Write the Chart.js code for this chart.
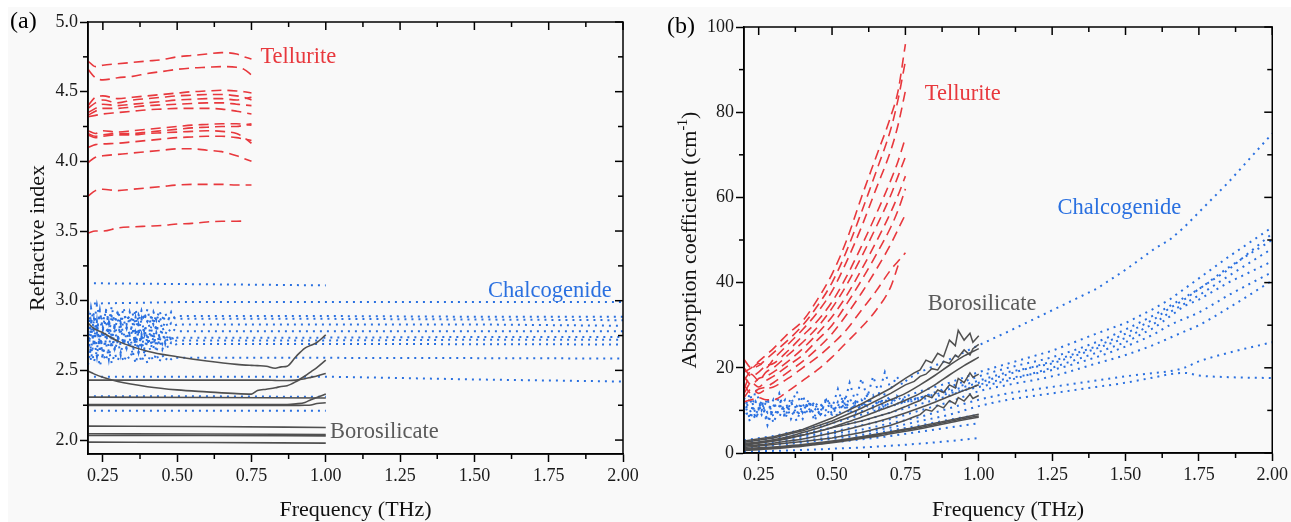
<!DOCTYPE html>
<html><head><meta charset="utf-8">
<script src="https://cdn.jsdelivr.net/npm/chart.js@4.4.1/dist/chart.umd.min.js"></script>
<style>
html,body{margin:0;padding:0;background:#fff;}
#wrap{position:relative;width:1291px;height:522px;overflow:hidden;}
#bg{position:absolute;left:8px;top:7px;right:0;bottom:0;background:#f9f9f9;}
canvas{position:absolute;top:0;}
#ca{left:0;} #cb{left:645px;}
</style></head><body>
<div id="wrap"><div id="bg"></div>
<canvas id="ca" width="645" height="522"></canvas>
<canvas id="cb" width="646" height="522"></canvas>
</div>
<script>
// ---------- tick labels ----------
const xTicks = [0.25, 0.50, 0.75, 1.00, 1.25, 1.50, 1.75, 2.00];
const xMinorTicks = [0.375, 0.625, 0.875, 1.125, 1.375, 1.625, 1.875];
const yTicksA = [2.0, 2.5, 3.0, 3.5, 4.0, 4.5, 5.0];
const yMinorTicksA = [2.25, 2.75, 3.25, 3.75, 4.25, 4.75];
const yTicksB = [0, 20, 40, 60, 80, 100];
const yMinorTicksB = [10, 30, 50, 70, 90];

// ---------- panel (a): refractive index ----------
const freqTelA = [0.20,0.225,0.25,0.30,0.35,0.40,0.45,0.50,0.55,0.60,0.65,0.70,0.725,0.75];
const telluriteIndex = [
  [4.72,4.68,4.69,4.70,4.71,4.72,4.73,4.75,4.76,4.77,4.78,4.77,4.75,4.735],
  [4.66,4.60,4.585,4.60,4.61,4.63,4.645,4.66,4.67,4.675,4.68,4.675,4.66,4.62],
  [4.40,4.46,4.47,4.45,4.46,4.47,4.48,4.49,4.50,4.505,4.51,4.505,4.50,4.49],
  [4.38,4.42,4.44,4.42,4.44,4.45,4.46,4.47,4.475,4.48,4.48,4.47,4.46,4.44],
  [4.35,4.38,4.41,4.40,4.41,4.42,4.43,4.44,4.445,4.45,4.45,4.44,4.45,4.46],
  [4.33,4.36,4.38,4.38,4.39,4.40,4.405,4.41,4.415,4.42,4.42,4.41,4.405,4.40],
  [4.32,4.33,4.34,4.35,4.36,4.37,4.375,4.38,4.38,4.38,4.375,4.36,4.35,4.34],
  [4.22,4.20,4.22,4.21,4.22,4.23,4.24,4.25,4.26,4.265,4.27,4.27,4.265,4.26],
  [4.20,4.18,4.19,4.20,4.20,4.21,4.22,4.23,4.24,4.245,4.25,4.25,4.26,4.27],
  [4.19,4.17,4.18,4.19,4.19,4.20,4.205,4.21,4.215,4.22,4.215,4.20,4.17,4.13],
  [4.10,4.12,4.125,4.13,4.14,4.15,4.16,4.17,4.175,4.18,4.18,4.17,4.16,4.15],
  [3.99,4.03,4.04,4.05,4.06,4.07,4.08,4.09,4.09,4.08,4.07,4.04,4.02,4.00],
  [3.75,3.79,3.80,3.79,3.80,3.81,3.82,3.83,3.835,3.835,3.835,3.83,3.83,3.83],
  [3.486,3.50,3.50,3.522,3.53,3.535,3.54,3.55,3.555,3.565,3.57,3.57,3.572,null]
];
const freqChalANoisy = [0.20,0.21,0.22,0.23,0.24,0.25,0.26,0.27,0.28,0.29,0.30,0.31,0.32,0.33,0.34,0.35,0.36,0.37,0.38,0.39,0.40,0.41,0.42,0.43,0.44,0.45,0.46,0.47,0.48,0.49,0.50,0.60,1.00,1.50,2.00];
const chalcoIndexNoisy = [
  [2.80,2.95,2.83,2.97,2.86,2.79,2.94,2.84,2.96,2.82,2.93,2.86,2.95,2.83,2.92,2.84,2.94,2.85,2.93,2.86,2.94,2.84,2.92,2.86,2.93,2.87,2.91,2.86,2.92,2.88,2.89,2.89,2.89,2.885,2.885],
  [2.93,2.84,2.91,2.80,2.90,2.85,2.92,2.83,2.89,2.86,2.91,2.84,2.90,2.86,2.89,2.91,2.83,2.90,2.84,2.91,2.85,2.89,2.83,2.90,2.85,2.89,2.86,2.88,2.86,2.875,2.87,2.87,2.87,2.865,2.86],
  [2.91,2.74,2.87,2.77,2.93,2.79,2.86,2.75,2.89,2.80,2.87,2.77,2.86,2.80,2.88,2.77,2.88,2.78,2.87,2.76,2.86,2.79,2.88,2.78,2.86,2.80,2.85,2.81,2.84,2.82,2.83,2.83,2.83,2.83,2.82],
  [2.70,2.85,2.73,2.83,2.68,2.81,2.75,2.86,2.72,2.82,2.74,2.84,2.75,2.81,2.76,2.84,2.73,2.83,2.74,2.82,2.72,2.81,2.75,2.83,2.74,2.81,2.76,2.80,2.77,2.79,2.78,2.78,2.78,2.78,2.78],
  [2.62,2.81,2.67,2.85,2.63,2.78,2.70,2.84,2.66,2.79,2.69,2.82,2.68,2.77,2.71,2.80,2.67,2.79,2.68,2.80,2.69,2.78,2.66,2.77,2.70,2.78,2.69,2.76,2.71,2.75,2.735,2.735,2.735,2.74,2.74],
  [2.77,2.65,2.79,2.66,2.74,2.60,2.76,2.67,2.78,2.66,2.75,2.68,2.74,2.66,2.75,2.66,2.77,2.67,2.76,2.65,2.75,2.68,2.77,2.67,2.74,2.69,2.75,2.70,2.73,2.71,2.715,2.715,2.715,2.72,2.72],
  [2.79,2.57,2.73,2.60,2.77,2.62,2.71,2.58,2.74,2.64,2.72,2.61,2.73,2.65,2.71,2.62,2.74,2.63,2.73,2.61,2.72,2.64,2.74,2.63,2.72,2.65,2.71,2.66,2.70,2.68,2.69,2.69,2.69,2.688,2.686],
  [2.54,2.67,2.56,2.64,2.53,2.62,2.57,2.65,2.55,2.62,2.57,2.63,2.56,2.61,2.58,2.64,2.55,2.63,2.56,2.62,2.55,2.61,2.57,2.62,2.56,2.61,2.57,2.60,2.58,2.595,2.59,2.59,2.59,2.588,2.585]
];
const freqChalAClean = [0.22, 0.50, 1.00, 1.50, 2.00];
const chalcoIndexClean = [
  [2.98,2.99,2.99,2.99,2.99],
  [2.455,2.455,2.455,2.435,2.42],
  [3.125,3.12,3.11,null,null],
  [2.315,2.315,2.31,null,null],
  [2.21,2.21,2.21,null,null]
];
const freqBoroA = [0.20,0.22,0.25,0.30,0.40,0.50,0.60,0.70,0.75,0.77,0.80,0.83,0.85,0.87,0.90,0.93,0.95,0.97,1.00];
const boroIndexCurved = [
  [2.84,2.80,2.77,2.71,2.638,2.598,2.567,2.543,2.536,2.534,2.53,2.515,2.525,2.53,2.60,2.66,2.68,2.70,2.755],
  [2.495,2.475,2.45,2.42,2.383,2.36,2.346,2.333,2.33,2.355,2.365,2.375,2.385,2.39,2.42,2.46,2.49,2.52,2.574],
  [2.43,2.43,2.43,2.43,2.43,2.43,2.43,2.43,2.43,2.43,2.43,2.428,2.427,2.427,2.43,2.44,2.45,2.46,2.478],
  [2.254,2.254,2.254,2.254,2.254,2.254,2.254,2.254,2.254,2.254,2.254,2.254,2.255,2.255,2.26,2.27,2.29,2.305,2.33],
  [2.248,2.248,2.248,2.248,2.248,2.248,2.248,2.248,2.248,2.248,2.248,2.248,2.248,2.248,2.249,2.25,2.252,2.262,2.268]
];
const freqBoroAFlat = [0.20, 0.60, 1.00];
const boroIndexFlat = [
  [2.308,2.305,2.302],
  [2.10,2.097,2.09],
  [2.045,2.043,2.04],
  [2.033,2.033,2.03],
  [1.985,1.982,1.978]
];

// ---------- panel (b): absorption coefficient ----------
const freqTelB = [0.20,0.225,0.25,0.275,0.30,0.35,0.40,0.45,0.50,0.55,0.60,0.65,0.70,0.725,0.75];
const telluriteAbs = [
  [19,20,21.5,23,24.5,28,31,36,42,50,60,69.5,79,85,96],
  [22,20,20.5,22,23.5,26.5,30,34.5,40,47.5,56.5,66,76,83,92],
  [17,19.5,21,20,22,25.5,29,33,38,45,53,62,71,77,85],
  [20,18,19,20.5,21,24,27.5,31,35.5,41.5,48.5,56,64,68.5,74],
  [15,18.5,17,19,20,23,26,29.5,34,39.5,46,53,60.5,65,69.5],
  [18,16,17.5,18,19,21.5,24.5,28,32,37,43,49.5,56.5,60.5,65],
  [14,16.5,15.5,17,18,20.5,23,26.5,30,35,40.5,46.5,53,57,62],
  [16,14,15,15.5,16.5,19,21.5,24.5,28,32.5,37.5,43,49,52.5,56],
  [13,15,14,15,15.5,17.5,20,22.5,25.5,29,33.5,38,43,45,47],
  [12,12.5,13,12.5,12.5,14.5,17,19.5,22.5,26,29.5,33.5,39,44,null]
];
const freqChalBNoisy = [0.20,0.22,0.24,0.26,0.28,0.30,0.32,0.34,0.36,0.38,0.40,0.42,0.44,0.46,0.48,0.50,0.52,0.54,0.56,0.58,0.60,0.62,0.64,0.66,0.68,0.70,0.72,0.74,0.76,0.80,0.90,1.00,1.10,1.25,1.40,1.50,1.60,1.65,1.70,1.75,1.85,2.00];
const chalcoAbsNoisy = [
  [9,13,8,12.5,7.5,11,14,8.5,12,9,13.5,10,12,8.5,13,10.5,15,11,16.5,12,17.5,13,18,14,19,15,18,16,17.5,19,22,25.3,28.5,33.5,38.5,43,48,50,53,56.5,63.5,75],
  [11,7.5,12,9,13,7,10.5,12.5,8,11,9.5,12.5,8.5,11.5,10,9,12,10,13,9.5,12.5,11,13.5,10.5,14,12,13.5,12.5,13.5,14.5,16.5,19,21,24,28,30.5,34,36,38.5,41,46,53],
  [13,10,8,11.5,9.5,12.5,8.5,11,10,7.5,11.5,9,12,10.5,8.5,11.5,10,12.5,9,11.5,10.5,12.5,11,10,12.5,11.5,13,12,12.5,13,15,17,19,21,24.5,27,30.5,33,35,37,41.5,48],
  [10,14,9,12,6.5,10.5,13,8,11.5,14.5,9.5,12,7.5,10.5,12.5,9,11,13.5,10,12.5,11,14,10.5,12.5,11,13,12,13.5,12.5,13,14.5,16.5,18.5,21.5,25,28,31.5,34,36,38.5,43,51.5],
  [12,8,15,10,12.5,8.5,11,9.5,13,10,8,12,10.5,9,12.5,11,8.5,11.5,10,12,9.5,12.5,11,12,10.5,12.5,11.5,12,12,12.5,14,15.5,17,20,23.5,26,29.5,32,34.5,36,40,45]
];
const freqChalB = [0.20,0.30,0.40,0.50,0.60,0.70,0.80,0.90,1.00,1.10,1.25,1.40,1.50,1.60,1.65,1.70,1.75,1.85,2.00];
const chalcoAbsSmooth = [
  [3,4,5.5,7,9,11,13,15.5,18,20,22.5,26,29,32.5,34.5,36.5,38.5,43.5,50],
  [2.5,3.5,4.5,6,7.5,9.5,11.5,13.5,16,17.5,19.5,22.5,25,28,30,31.5,33,37,42.5],
  [2,3,4,5,6.5,8,10,12,14.5,16,18,21,23,25.5,27,28.5,30,34,40.5],
  [1.5,2.5,3.5,4.5,5.5,7,8.5,10.5,12.5,14,15.5,17,18,18.8,19.2,20,21.5,23.5,26],
  [1,2,2.8,3.8,4.8,6,7.5,9,11,12.5,14,15.5,16.5,17.8,18.5,18.8,18.2,17.8,17.6],
  [1.2,1.8,2.5,3.3,4.2,5.3,6.5,7.8,9,null,null,null,null,null,null,null,null,null,null],
  [0.8,1.3,1.8,2.5,3.2,4,5,6,7,null,null,null,null,null,null,null,null,null,null],
  [0.3,0.5,0.7,1.0,1.3,1.7,2.2,2.8,3.5,null,null,null,null,null,null,null,null,null,null]
];
const freqBoroBNoisy = [0.20,0.30,0.40,0.50,0.60,0.70,0.75,0.78,0.80,0.82,0.84,0.86,0.88,0.90,0.92,0.93,0.95,0.97,0.98,1.00];
const boroAbsNoisy = [
  [2.8,3.8,5.5,8.2,11.5,15.2,17.5,18.8,19.5,21.8,21.2,23.4,22.6,26.5,25.2,28.8,26.5,28.1,26,27.5],
  [2.5,3.5,5.2,7.5,10.5,14,16,16.8,18,18.5,19.8,19.5,21.5,21,23,22.5,24.2,23,24.5,25.5],
  [1.8,2.8,4.2,5.9,7.5,9.5,10.9,11.8,12.3,13.5,13,14.8,14.2,16,15.3,17.5,16.5,18.8,17.8,18.5],
  [1.3,2,2.7,3.5,4.8,6.5,7.7,8.5,9,10.2,9.8,11.2,10.6,12.3,11.5,13,12.2,13.8,12.8,13.5]
];
const freqBoroBSmooth = [0.20,0.25,0.30,0.35,0.40,0.45,0.50,0.55,0.60,0.65,0.70,0.75,0.80,0.85,0.90,0.95,1.00];
const boroAbsSmooth = [
  [2.2,2.6,3.1,3.8,4.8,5.8,7,8.2,9.5,11,12.5,14,16,18.2,20.6,22.8,24.5],
  [2.0,2.4,2.8,3.4,4.2,5.0,6.0,7.2,8.4,9.7,11,12.4,14,16,18.3,20.5,22.5],
  [1.6,1.9,2.3,2.8,3.3,4,4.7,5.5,6.4,7.3,8.3,9.4,10.6,11.9,13.3,14.7,16],
  [1.0,1.2,1.4,1.7,2.0,2.4,2.8,3.3,3.8,4.4,5.0,5.6,6.3,7.0,7.7,8.4,9.1],
  [0.8,1.0,1.2,1.5,1.8,2.2,2.6,3.1,3.6,4.2,4.8,5.4,6.0,6.7,7.4,8.1,8.7],
  [0.6,0.8,1.0,1.3,1.6,2.0,2.4,2.9,3.4,3.9,4.5,5.1,5.7,6.4,7.1,7.8,8.4]
];

// ---------- styling ----------
const FONT = "'Liberation Serif', 'Times New Roman', serif";
const RED = '#e8383d', BLUE = '#2a70e0', GREY = '#505050';
Chart.defaults.font.family = FONT;

const redDash = {borderColor: RED, borderWidth: 1.6, borderDash: [10, 6], cubicInterpolationMode: 'monotone'};
const blueDot = {borderColor: BLUE, borderWidth: 2, borderDash: [2, 5], tension: 0};
const blueDotSmooth = {borderColor: BLUE, borderWidth: 2, borderDash: [2, 5], cubicInterpolationMode: 'monotone'};
const greySolid = {borderColor: GREY, borderWidth: 1.6, cubicInterpolationMode: 'monotone'};
const greyNoisy = {borderColor: GREY, borderWidth: 1.5, tension: 0};

function group(xs, list, style) {
  return list.map(ys => Object.assign({
    data: ys.map((v, i) => ({x: xs[i], y: v})),
    pointRadius: 0, fill: false, spanGaps: false
  }, style));
}

const framePlugin = {
  id: 'frame',
  afterDraw(chart, args, o) {
    const {ctx, chartArea: a, scales: {x, y}} = chart;
    ctx.save();
    ctx.strokeStyle = '#000';
    ctx.lineWidth = 1.5;
    ctx.strokeRect(a.left, a.top, a.right - a.left, a.bottom - a.top);
    const seg = (x1, y1, x2, y2) => { ctx.beginPath(); ctx.moveTo(x1, y1); ctx.lineTo(x2, y2); ctx.stroke(); };
    xTicks.forEach(v => { const p = x.getPixelForValue(v); seg(p, a.top, p, a.top + 8); });
    xMinorTicks.forEach(v => { const p = x.getPixelForValue(v); seg(p, a.top, p, a.top + 5); seg(p, a.bottom, p, a.bottom + 5); });
    o.yMajor.forEach(v => { const p = y.getPixelForValue(v); seg(a.right, p, a.right - 8, p); });
    o.yMinor.forEach(v => { const p = y.getPixelForValue(v); seg(a.right, p, a.right - 5, p); seg(a.left, p, a.left - 5, p); });
    // annotations
    ctx.textBaseline = 'middle';
    ctx.textAlign = 'left';
    ctx.font = '22.5px ' + FONT;
    o.notes.forEach(n => {
      ctx.fillStyle = n.color;
      ctx.fillText(n.text, x.getPixelForValue(n.x), y.getPixelForValue(n.y));
    });
    // panel label
    ctx.fillStyle = '#000';
    ctx.font = '24px ' + FONT;
    ctx.fillText(o.panel.text, o.panel.x, o.panel.y);
    // axis titles
    ctx.font = '22px ' + FONT;
    ctx.textAlign = 'center';
    ctx.fillStyle = '#111';
    ctx.fillText('Frequency (THz)', (a.left + a.right) / 2, 510);
    ctx.save();
    ctx.translate(o.yTitleX, (a.top + a.bottom) / 2 + o.yTitleShift);
    ctx.rotate(-Math.PI / 2);
    ctx.textAlign = 'left';
    const parts = o.yTitle;
    let total = 0;
    parts.forEach(pt => { ctx.font = pt.size + 'px ' + FONT; total += ctx.measureText(pt.t).width; });
    let cx = -total / 2;
    parts.forEach(pt => { ctx.font = pt.size + 'px ' + FONT; ctx.fillText(pt.t, cx, pt.dy || 0); cx += ctx.measureText(pt.t).width; });
    ctx.restore();
    ctx.restore();
  }
};

function makeChart(id, datasets, cfg) {
  return new Chart(document.getElementById(id), {
    type: 'line',
    data: {datasets},
    plugins: [framePlugin],
    options: {
      responsive: false, animation: false, devicePixelRatio: 1,
      layout: {padding: {left: 0, right: cfg.padRight, top: cfg.padTop, bottom: 0}},
      plugins: {legend: {display: false}, tooltip: {enabled: false}, frame: cfg.frame},
      scales: {
        x: {
          type: 'linear', min: 0.2, max: 2.0,
          afterBuildTicks: s => { s.ticks = xTicks.map(v => ({value: v})); },
          afterFit: s => { s.height = cfg.xHeight; },
          ticks: {font: {size: 18, family: FONT}, color: '#1a1a1a', padding: 3, maxRotation: 0, autoSkip: false,
                  callback: v => v.toFixed(2)},
          grid: {drawOnChartArea: false, drawTicks: true, tickLength: 8, tickWidth: 1.5, tickColor: '#000'},
          border: {display: true, color: '#000', width: 1.5}
        },
        y: {
          type: 'linear', min: cfg.yMin, max: cfg.yMax,
          afterBuildTicks: s => { s.ticks = cfg.yTicks.map(v => ({value: v})); },
          afterFit: s => { s.width = cfg.yWidth; },
          ticks: {font: {size: 18, family: FONT}, color: '#1a1a1a', padding: 2, autoSkip: false,
                  callback: cfg.yFmt},
          grid: {drawOnChartArea: false, drawTicks: true, tickLength: 8, tickWidth: 1.5, tickColor: '#000'},
          border: {display: true, color: '#000', width: 1.5}
        }
      }
    }
  });
}

const datasetsA = [].concat(
  group(freqBoroA, boroIndexCurved, greySolid),
  group(freqBoroAFlat, boroIndexFlat, greySolid),
  group(freqTelA, telluriteIndex, redDash),
  group(freqChalANoisy, chalcoIndexNoisy, blueDot),
  group(freqChalAClean, chalcoIndexClean, blueDot)
);
makeChart('ca', datasetsA, {
  padRight: 22, padTop: 22, xHeight: 68, yWidth: 88,
  yMin: 1.9, yMax: 5.0, yTicks: yTicksA, yFmt: v => v.toFixed(1),
  frame: {
    yMajor: yTicksA, yMinor: yMinorTicksA,
    notes: [
      {text: 'Tellurite', x: 0.78, y: 4.75, color: RED},
      {text: 'Chalcogenide', x: 1.546, y: 3.066, color: BLUE},
      {text: 'Borosilicate', x: 1.014, y: 2.056, color: '#5a5a5a'}
    ],
    panel: {text: '(a)', x: 10, y: 22},
    yTitleX: 38, yTitleShift: 0,
    yTitle: [{t: 'Refractive index', size: 22}]
  }
});

const datasetsB = [].concat(
  group(freqBoroBNoisy, boroAbsNoisy, greyNoisy),
  group(freqBoroBSmooth, boroAbsSmooth, greySolid),
  group(freqTelB, telluriteAbs, redDash),
  group(freqChalBNoisy, chalcoAbsNoisy, blueDot),
  group(freqChalB, chalcoAbsSmooth, blueDotSmooth)
);
makeChart('cb', datasetsB, {
  padRight: 18, padTop: 27, xHeight: 69, yWidth: 99,
  yMin: 0, yMax: 100, yTicks: yTicksB, yFmt: v => String(v),
  frame: {
    yMajor: yTicksB, yMinor: yMinorTicksB,
    notes: [
      {text: 'Tellurite', x: 0.816, y: 84.2, color: RED},
      {text: 'Chalcogenide', x: 1.268, y: 57.4, color: BLUE},
      {text: 'Borosilicate', x: 0.826, y: 34.9, color: '#5a5a5a'}
    ],
    panel: {text: '(b)', x: 22, y: 27},
    yTitleX: 45, yTitleShift: 0,
    yTitle: [{t: 'Absorption coefficient (cm', size: 22}, {t: '-1', size: 14, dy: -7}, {t: ')', size: 22}]
  }
});
</script>
</body></html>
